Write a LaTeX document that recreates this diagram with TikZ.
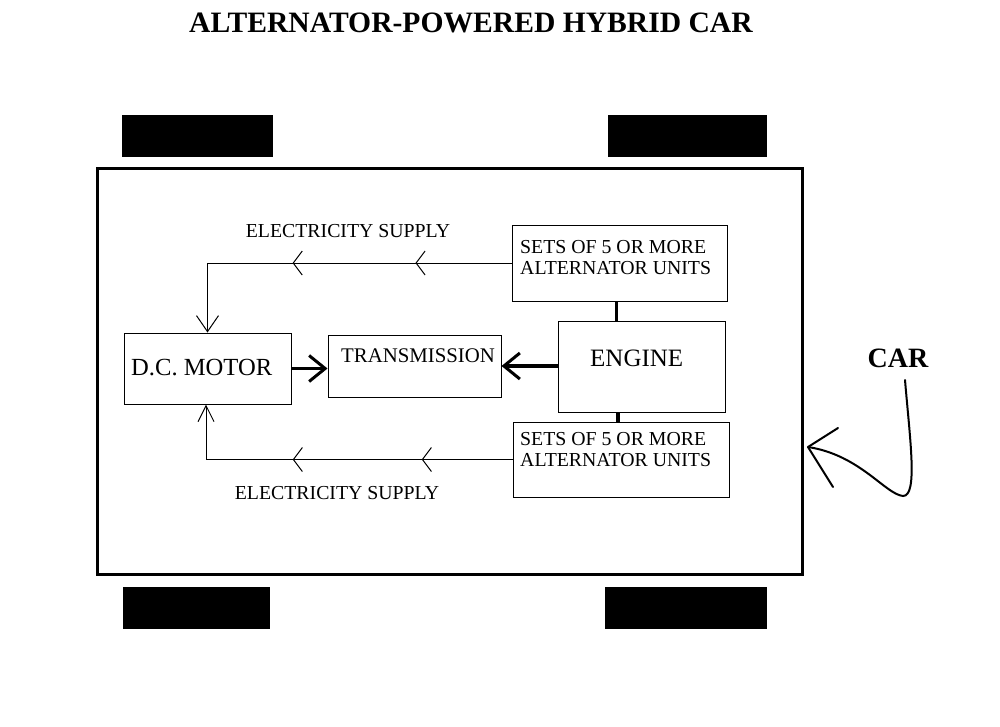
\documentclass[tikz,border=0pt]{standalone}
\usepackage{fontspec}
\setmainfont{Liberation Serif}
\usetikzlibrary{arrows.meta,decorations.markings}
\tikzset{
  box/.style={draw, line width=1pt, inner sep=0pt},
  wheel/.style={fill=black, inner sep=0pt, minimum width=#1, minimum height=42pt},
  body/.style={draw, line width=3pt, inner sep=0pt, minimum width=705pt, minimum height=406pt},
  lbl/.style={inner sep=0pt, font=\fontsize{19.8}{21}\selectfont},
  elec/.style={line width=1pt},
  midtip/.style={postaction={decorate, decoration={markings,
     mark=at position #1 with {\arrow{Straight Barb[length=9pt,width=24pt,line width=1pt]}}}}},
  endtip/.style={-{Straight Barb[length=16pt,width=#1,line width=1pt]}},
  power/.style={line width=3.5pt, -{Straight Barb[length=16pt,width=26pt,line width=3pt]}},
  shaft/.style={line width=3.5pt},
}
\begin{document}
\begin{tikzpicture}[x=1pt,y=-1pt]
\useasboundingbox (0,0) rectangle (1000,726);
% title
\node[inner sep=0pt, anchor=base, font=\fontsize{29.6}{31}\selectfont\bfseries] (title) at (471,32) {ALTERNATOR-POWERED HYBRID CAR};
% wheels
\node[wheel=151pt] (w1) at (197.5,136) {};
\node[wheel=159pt] (w2) at (687.5,136) {};
\node[wheel=147pt] (w3) at (196.5,608) {};
\node[wheel=162pt] (w4) at (686,608) {};
% car body
\node[body] (car) at (449.5,371) {};
% boxes
\node[box, minimum width=167pt, minimum height=71pt] (motor) at (207.5,368.5) {};
\node[box, minimum width=173pt, minimum height=62pt] (trans) at (414.5,366) {};
\node[box, minimum width=167pt, minimum height=91pt] (engine) at (641.5,366.5) {};
\node[box, minimum width=215pt, minimum height=76pt] (altT) at (619.5,263) {};
\node[box, minimum width=216pt, minimum height=75pt] (altB) at (621,459.5) {};
% box texts
\node[inner sep=0pt, anchor=base west, font=\fontsize{24.6}{26}\selectfont] (tmotor) at (131,375) {D.C. MOTOR};
\node[inner sep=0pt, anchor=base west, font=\fontsize{20.8}{22}\selectfont] (ttrans) at (341,362) {TRANSMISSION};
\node[inner sep=0pt, anchor=base west, font=\fontsize{25}{27}\selectfont] (tengine) at (590,366) {ENGINE};
\node[lbl, anchor=base west] (taltT1) at (520,253) {SETS OF 5 OR MORE};
\node[lbl, anchor=base west] (taltT2) at (520,274) {ALTERNATOR UNITS};
\node[lbl, anchor=base west] (taltB1) at (520,445) {SETS OF 5 OR MORE};
\node[lbl, anchor=base west] (taltB2) at (520,466) {ALTERNATOR UNITS};
% electricity labels
\node[lbl, anchor=base] (etop) at (348,237) {ELECTRICITY SUPPLY};
\node[lbl, anchor=base] (ebot) at (337,499) {ELECTRICITY SUPPLY};
% electricity connectors
\coordinate (ct) at (motor.north |- altT.west);
\coordinate (cb) at ([xshift=-1.5pt]motor.south |- altB.west);
\draw[elec, midtip=0.316, midtip=0.72] (altT.west) -- (ct);
\draw[elec, endtip=22pt] (ct) -- (motor.north);
\draw[elec, midtip=0.296, midtip=0.717] (altB.west) -- (cb);
\draw[elec, endtip=16pt] (cb) -- (cb |- motor.south);
% power connectors
\draw[power] (motor.east) -- (motor.east -| trans.west);
\draw[power] (engine.west |- trans.east) -- (trans.east);
\draw[shaft] ([xshift=-25pt]altT.south -| engine.north) -- ([xshift=-25pt]engine.north);
\draw[shaft] ([xshift=-23.5pt]engine.south) -- ([xshift=-23.5pt]engine.south |- altB.north);
% CAR label with curved arrow
\node[inner sep=0pt, anchor=base, font=\fontsize{28}{30}\selectfont\bfseries] (carlbl) at (898,367) {CAR};
\coordinate (cs) at (905,380);
\coordinate (cbot) at (903,496);
\coordinate (cartip) at (808,447);
\draw[line width=2pt, line cap=round] (cs) .. controls (910,440) and (918,496) .. (cbot)
   .. controls (885,494) and (860,455) .. (cartip);
\draw[line width=2pt, line cap=round, line join=round] (838,428) -- (cartip) -- (833,487);
\end{tikzpicture}
\end{document}
